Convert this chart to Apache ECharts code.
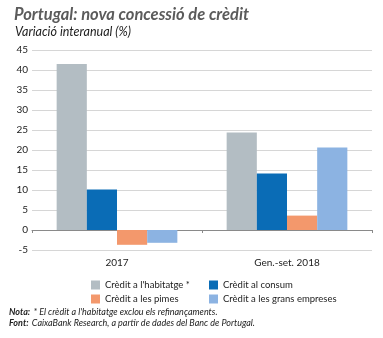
<!DOCTYPE html>
<html><head><meta charset="utf-8">
<script src="https://cdn.jsdelivr.net/npm/echarts@6/dist/echarts.min.js"></script>
<style>html,body{margin:0;padding:0;background:#fff}#c{width:383px;height:338px}</style>
</head><body><div id="c"></div>
<script>
var categories = ['2017', 'Gen.-set. 2018'];
var seriesNames = ["Crèdit a l'habitatge *", 'Crèdit al consum', 'Crèdit a les pimes', 'Crèdit a les grans empreses'];
var habitatge = [41.5, 24.4];
var consum = [10.1, 14.1];
var pimes = [-3.7, 3.6];
var grans = [-3.2, 20.6];
var yTicks = [-5, 0, 5, 10, 15, 20, 25, 30, 35, 40, 45];
var colors = ['#b3bdc3', '#0a6cb6', '#f3986c', '#8cb3e2'];
var values = [habitatge, consum, pimes, grans];

var chart = echarts.init(document.getElementById('c'), null, {renderer: 'canvas'});
var FONT = 'Lato, "Open Sans", sans-serif';
var series = values.map(function (v, i) {
  return {
    name: seriesNames[i], type: 'bar', data: v, xAxisIndex: 0,
    barGap: '0%', barCategoryGap: '29%',
    itemStyle: {color: colors[i]}
  };
});
chart.setOption({
  animation: false,
  textStyle: {fontFamily: FONT},
  title: [
    {text: 'Portugal: nova concessió de crèdit', left: 9, top: 1,
      textStyle: {fontSize: 16.5, fontWeight: 'bold', fontStyle: 'italic', color: '#5b5b5b', fontFamily: FONT}},
    {text: 'Variació interanual (%)', left: 10, top: 20,
      textStyle: {fontSize: 12.5, fontWeight: 'normal', fontStyle: 'italic', color: '#222', fontFamily: FONT}}
  ],
  grid: {left: 32, right: 11, top: 50, bottom: 88, containLabel: false},
  legend: [
    {data: [seriesNames[0], seriesNames[2]], orient: 'vertical', left: 86, top: 275,
      itemWidth: 9, itemHeight: 9, itemGap: 4, icon: 'rect',
      textStyle: {fontSize: 9.5, color: '#222', fontFamily: FONT}},
    {data: [seriesNames[1], seriesNames[3]], orient: 'vertical', left: 204, top: 275,
      itemWidth: 9, itemHeight: 9, itemGap: 4, icon: 'rect',
      textStyle: {fontSize: 9.5, color: '#222', fontFamily: FONT}}
  ],
  xAxis: [
    {type: 'category', data: categories, position: 'bottom',
      axisLine: {show: false, onZero: false}, axisTick: {show: false},
      axisLabel: {fontSize: 10, color: '#222', margin: 8}},
    {type: 'category', data: categories, position: 'bottom',
      axisLine: {show: true, onZero: true, lineStyle: {color: '#8a8a8a', width: 1}},
      axisTick: {show: true, length: 3, lineStyle: {color: '#8a8a8a'}},
      axisLabel: {show: false}}
  ],
  yAxis: {
    type: 'value', min: yTicks[0], max: yTicks[yTicks.length - 1], interval: 5,
    axisLine: {show: false}, axisTick: {show: false},
    axisLabel: {fontSize: 10, color: '#222', margin: 4},
    splitLine: {lineStyle: {color: '#d6d6d6', width: 1}}
  },
  series: series,
  graphic: [
    {type: 'text', left: 9, top: 306, style: {
      text: "{b|Nota:} {n|* El crèdit a l'habitatge exclou els refinançaments.}\n{b|Font:} {n|CaixaBank Research, a partir de dades del Banc de Portugal.}",
      lineHeight: 11.5,
      rich: {
        b: {fontWeight: 'bold', fontStyle: 'italic', fontSize: 9, fill: '#222', fontFamily: FONT, lineHeight: 11.5},
        n: {fontStyle: 'italic', fontSize: 9, fill: '#222', fontFamily: FONT, lineHeight: 11.5}
      }
    }}
  ]
});
</script></body></html>
